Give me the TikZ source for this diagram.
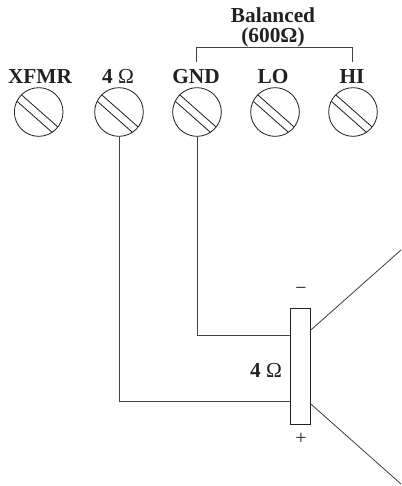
\documentclass[tikz,border=0pt]{standalone}
\usepackage{fontspec}
\setmainfont{Liberation Serif}
\usetikzlibrary{calc}
\definecolor{ink}{gray}{0.13}
\tikzset{
  x=0.75pt,y=-0.75pt,
  wire/.style={draw=ink!85,line width=0.62pt},
  term/.style={circle,draw=ink,line width=0.62pt,minimum size=36.5pt,inner sep=0pt,
    path picture={
      \draw[ink,line width=0.62pt]
        ($(path picture bounding box.center)+(-21,-20.5)$) -- ++(43,38)
        ($(path picture bounding box.center)+(-26,-14.5)$) -- ++(43,38);
    }},
  lab/.style={font=\fontsize{16}{16}\selectfont\bfseries,text=ink,inner sep=0pt,anchor=center},
  toplab/.style={lab,text height=10.5pt,text depth=0pt,inner ysep=5.5pt},
  sign/.style={font=\fontsize{15}{15}\selectfont,text=ink,inner sep=0pt},
}
\begin{document}
\begin{tikzpicture}
\useasboundingbox (0,0) rectangle (401,486);
\node[term] (c1) at (38.7,112) {};
\node[term] (c2) at (119,112) {};
\node[term] (c3) at (197,112) {};
\node[term] (c4) at (275,112) {};
\node[term] (c5) at (353,112) {};
\node[toplab] (l1) at (40,76.5) {XFMR};
\node[toplab] (l2) at (118,76.5) {4 \textmd{Ω}};
\node[toplab] (l3) at (196,76.5) {GND};
\node[toplab] (l4) at (273,76.5) {LO};
\node[toplab] (l5) at (352,76.5) {HI};
\node[lab] (b1) at (273,15) {Balanced};
\node[lab] (b2) at (273,37) {(600Ω)};
\draw[wire] (l3.north) |- (273,47.5) -| (l5.north);
\node[draw=ink,line width=0.7pt,fill=white,minimum width=14.8pt,minimum height=86.5pt,inner sep=0pt] (spk) at (300.5,366.3) {};
\coordinate (sa) at (spk.west |- 0,335);
\coordinate (sb) at (spk.west |- 0,401);
\coordinate (ca) at (spk.east |- 0,330);
\coordinate (cb) at (spk.east |- 0,404);
\coordinate (ea) at (401,250);
\coordinate (eb) at (401,484);
\draw[wire] (c3.south) |- (sa);
\draw[wire] (c2.south) |- (sb);
\draw[wire] (ca) -- (ea);
\draw[wire] (cb) -- (eb);
\node[lab] (ohm) at (266,370) {4 \textmd{Ω}};
\node[sign] (minus) at (301,291) {−};
\node[sign] (plus) at (301,439) {+};
\end{tikzpicture}
\end{document}
